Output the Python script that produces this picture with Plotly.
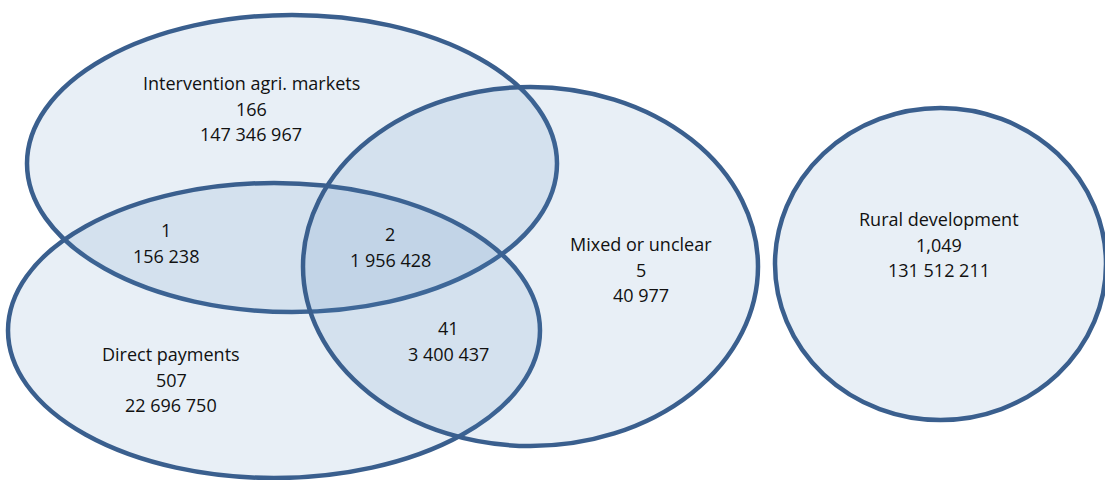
import plotly.graph_objects as go

# ---- data ----
region_labels = ["Intervention agri. markets", "", "", "Mixed or unclear", "", "Direct payments", "Rural development"]
region_counts = ["166", "1", "2", "5", "41", "507", "1,049"]
region_amounts = ["147 346 967", "156 238", "1 956 428", "40 977", "3 400 437", "22 696 750", "131 512 211"]

# ---- layout (positions / sizes) ----
# text block anchor (center x, first line y) per region
text_pos = [(251, 83), (166, 230), (390, 234), (641, 244), (448, 328), (171, 354), (939, 219)]
line_gap = 25.5

# ellipses: x0, y0, x1, y1 in pixel-like axis units
ellipses = [
    (27, 15, 557, 312),    # Intervention agri. markets
    (8, 183, 540, 478),    # Direct payments
    (303, 87, 758, 446),   # Mixed or unclear
    (775, 108, 1106, 420), # Rural development
]

stroke = "#3A5F8E"
fill = "rgba(79,129,189,0.13)"
font_family = "'Open Sans', Lato, sans-serif"
font_size = 18

fig = go.Figure()

shapes = []
for (x0, y0, x1, y1) in ellipses:
    shapes.append(dict(type="circle", xref="x", yref="y", x0=x0, y0=y0, x1=x1, y1=y1,
                       line=dict(color=stroke, width=4.5), fillcolor=fill, layer="above"))

annotations = []
for lab, cnt, amt, (cx, cy) in zip(region_labels, region_counts, region_amounts, text_pos):
    lines = [t for t in (lab, cnt, amt) if t]
    for i, t in enumerate(lines):
        annotations.append(dict(x=cx, y=cy + i * line_gap, xref="x", yref="y", text=t,
                                showarrow=False, xanchor="center", yanchor="middle",
                                font=dict(family=font_family, size=font_size, color="#111111")))

fig.update_layout(
    width=1105, height=480,
    margin=dict(l=0, r=0, t=0, b=0),
    paper_bgcolor="white", plot_bgcolor="white",
    xaxis=dict(range=[0, 1105], visible=False, fixedrange=True),
    yaxis=dict(range=[480, 0], visible=False, fixedrange=True),
    shapes=shapes, annotations=annotations, showlegend=False,
)
fig.add_trace(go.Scatter(x=[None], y=[None], mode="markers", hoverinfo="skip"))

fig.write_html("out.html", config={"displayModeBar": False},
               post_script="document.body.style.margin='0';document.body.style.overflow='hidden';")
